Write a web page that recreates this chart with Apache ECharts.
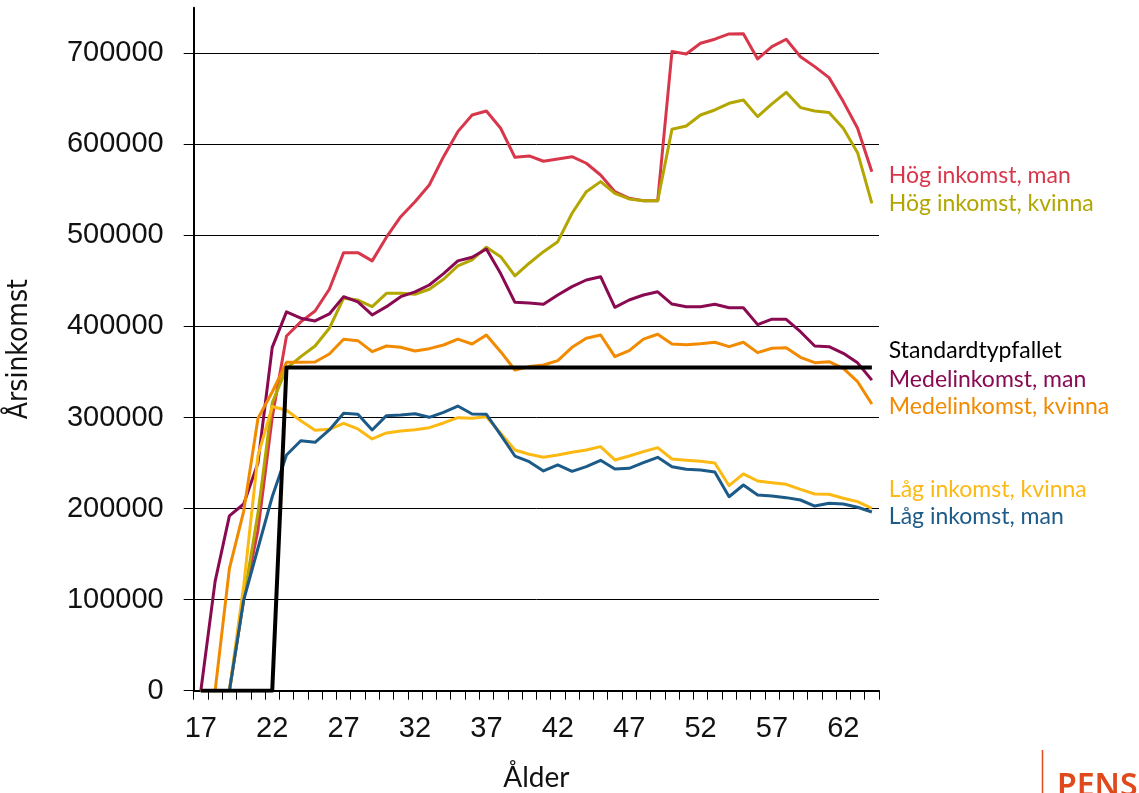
<!DOCTYPE html>
<html>
<head>
<meta charset="utf-8">
<script src="https://cdn.jsdelivr.net/npm/echarts@6/dist/echarts.min.js"></script>
<style>html,body{margin:0;padding:0;background:#fff}#c{width:1139px;height:793px}</style>
</head>
<body>
<div id="c"></div>
<script>
var ages = ['17','18','19','20','21','22','23','24','25','26','27','28','29','30','31','32','33','34','35','36','37','38','39','40','41','42','43','44','45','46','47','48','49','50','51','52','53','54','55','56','57','58','59','60','61','62','63','64'];
var yTicks = [0,100000,200000,300000,400000,500000,600000,700000];

var hogMan = [0,0,0,100000,176000,300000,389500,405000,417000,440800,481000,481000,472000,498000,520500,537000,555300,586400,613900,632200,636600,617600,585700,587200,581400,583900,586400,579200,566300,548000,540700,538100,538100,701800,699200,711000,715400,721200,721500,693700,707200,715400,696200,685300,673200,646900,617600,569900];
var hogKvinna = [0,0,0,100000,195000,316000,354000,366800,378500,398000,431000,429000,421700,436400,436400,435300,440800,451800,466400,473000,487000,476600,455400,469400,482100,493100,524300,548000,559000,546200,540000,538100,538100,616500,620100,632200,637700,645000,648700,630400,644300,657100,640300,636600,634800,617600,590800,535200];
var standard = [0,0,0,0,0,0,355000,355000,355000,355000,355000,355000,355000,355000,355000,355000,355000,355000,355000,355000,355000,355000,355000,355000,355000,355000,355000,355000,355000,355000,355000,355000,355000,355000,355000,355000,355000,355000,355000,355000,355000,355000,355000,355000,355000,355000,355000,355000];
var medelMan = [0,120000,192000,205000,250000,377000,416000,409000,406000,413700,432700,427000,412600,421700,432700,438000,445500,458000,472000,476000,485000,458000,426500,425700,424300,434500,443700,451000,454600,421000,429000,434500,438000,424600,421700,421700,424300,420600,420600,402000,408000,407800,394200,378500,377800,370500,360000,341000];
var medelKvinna = [0,0,134000,197000,299000,328000,360600,360600,361000,369800,386000,384400,372300,378500,377100,373000,375600,379600,386000,380700,390600,372300,352200,355900,357700,362400,377100,387000,390600,366800,373400,386000,391400,380700,380000,381100,382600,377800,382600,371200,376000,376700,366100,360200,361300,354000,339300,314800];
var lagKvinna = [0,0,0,115000,258000,312000,308000,296500,286000,287000,293600,287400,276400,283000,285200,286600,288800,294000,299800,299100,300900,282700,264300,259600,256300,258800,261800,264300,268000,253400,257700,262500,266900,254400,253000,251900,250000,225100,238000,230300,228400,226600,221100,216000,215700,211300,207600,200300];
var lagMan = [0,0,0,99600,156400,213000,258800,274500,272800,286300,304600,303500,286300,302000,302800,304200,300200,305700,312600,303900,303500,281000,257700,251500,241300,247900,240900,246000,253000,243500,244200,250400,256300,246000,243100,242400,240200,213000,225900,214900,213800,212000,209400,202800,205800,205000,201400,196200];

var labelFont = 'Lato, "Noto Sans", sans-serif';

function mk(name, data, color, width, dy, z) {
  return {
    name: name, type: 'line', data: data, symbol: 'none', z: z,
    lineStyle: { color: color, width: width, join: 'round' },
    itemStyle: { color: color },
    endLabel: {
      show: true, formatter: name, color: color, fontFamily: labelFont,
      fontSize: 23, distance: 17, offset: [0, dy]
    },
    emphasis: { disabled: true }
  };
}

var chart = echarts.init(document.getElementById('c'), null, { renderer: 'canvas' });
chart.setOption({
  animation: false,
  backgroundColor: '#fff',
  grid: { left: 193.7, right: 260, top: 7.7, bottom: 102.3, containLabel: false, outerBoundsMode: 'none' },
  xAxis: {
    type: 'category', data: ages, boundaryGap: true,
    name: 'Ålder', nameLocation: 'middle', nameGap: 73,
    nameTextStyle: { fontFamily: labelFont, fontSize: 28, color: '#111' },
    axisLine: { lineStyle: { color: '#000', width: 2 } },
    axisTick: { show: true, interval: 0, length: 9, lineStyle: { color: '#000', width: 1 } },
    axisLabel: { interval: 4, margin: 24, fontFamily: '"Liberation Sans", Arial, sans-serif', fontSize: 29, color: '#111' },
    splitLine: { show: false }
  },
  yAxis: {
    type: 'value', min: 0, max: 750000,
    name: 'Årsinkomst', nameLocation: 'middle', nameGap: 160, nameRotate: 90,
    nameTextStyle: { fontFamily: '"Liberation Sans Narrow", "DejaVu Sans Condensed", sans-serif', fontSize: 28, color: '#111' },
    axisLine: { show: true, lineStyle: { color: '#000', width: 2 } },
    axisTick: { show: true, length: 10, customValues: yTicks, lineStyle: { color: '#000', width: 1 } },
    axisLabel: { margin: 30, customValues: yTicks, formatter: function (v) { return String(v); }, fontFamily: '"Liberation Sans", Arial, sans-serif', fontSize: 29, color: '#111' },
    splitLine: { show: true, lineStyle: { color: '#000', width: 1 } }
  },
  series: [
    mk('Hög inkomst, man', hogMan, '#d8374b', 3, 4, 2),
    mk('Hög inkomst, kvinna', hogKvinna, '#b3a600', 3, 0, 2),
    mk('Medelinkomst, man', medelMan, '#8a0a52', 3, -1, 2),
    mk('Medelinkomst, kvinna', medelKvinna, '#f28a00', 3, 3, 2),
    mk('Låg inkomst, kvinna', lagKvinna, '#fdb913', 3, -19, 2),
    mk('Låg inkomst, man', lagMan, '#1c5a88', 3, 5, 3),
    mk('Standardtypfallet', standard, '#000000', 4, -17, 4)
  ],
  graphic: [
    { type: 'line', shape: { x1: 1042.5, y1: 750, x2: 1042.5, y2: 793 }, style: { stroke: '#e0491c', lineWidth: 1.5 } },
    { type: 'text', left: 1057, top: 771, style: { text: 'PENS', fill: '#e0491c', font: '600 32px "Noto Sans", sans-serif' } }
  ]
});
</script>
</body>
</html>
